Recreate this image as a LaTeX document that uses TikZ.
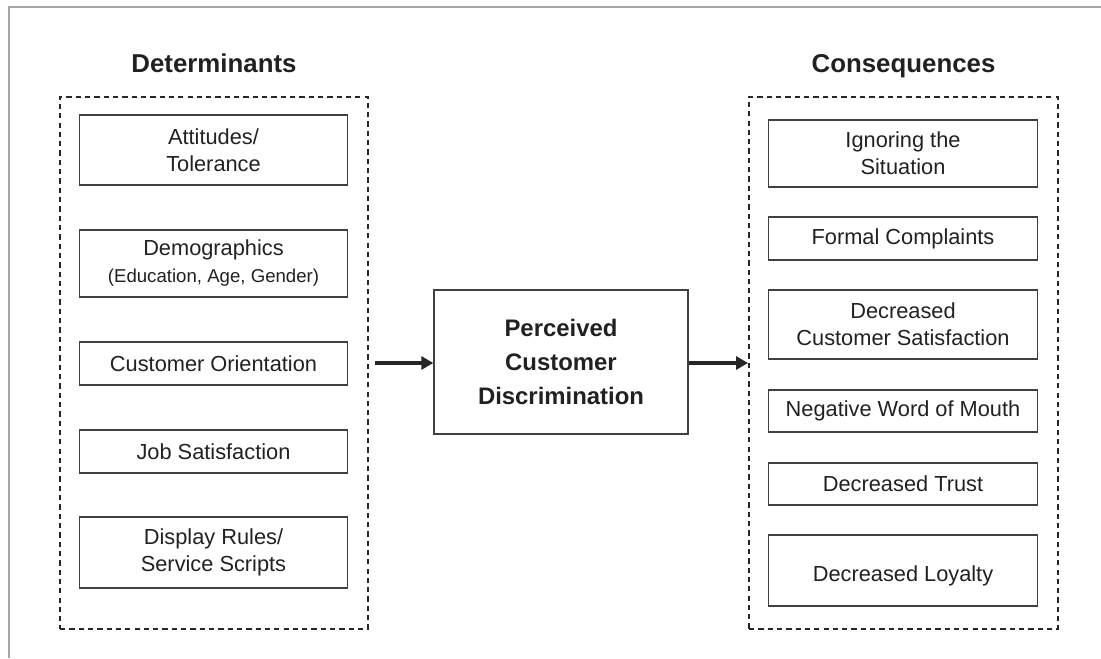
\documentclass[tikz,border=0pt]{standalone}
\usepackage{fontspec}
\setmainfont{Liberation Sans}
\usetikzlibrary{arrows.meta}

\begin{document}
\begin{tikzpicture}[
        factor/.style={draw=black!75,line width=0.75pt,minimum width=5.37cm,inner sep=0pt,align=center,
            text=black!87,font=\fontsize{12.4}{15.4}\selectfont},
        group/.style={draw=black!85,line width=1.1pt,dash pattern=on 3pt off 2.3pt,inner sep=0pt},
        heading/.style={anchor=base,text=black!87,font=\fontsize{14.7}{17}\selectfont\bfseries},
        flow/.style={draw=black!85,line width=2.3pt,-{Triangle[length=0.24cm,width=0.26cm]}}
    ]
        \useasboundingbox (0,0) rectangle (22.02,-13.16);
        % frame along the top and left edge
        \draw[black!35,line width=1.1pt] (22.02,-0.14) -- (0.18,-0.14) -- (0.18,-13.16);

        % left column: determinants
        \node[heading] (dethead) at (4.28,-1.44) {Determinants};
        \node[group,minimum width=6.16cm,minimum height=10.64cm] (detbox) at (4.28,-7.26) {};
        \node[factor,minimum height=1.40cm] (att) at (4.27,-3.00) {Attitudes/\\Tolerance};
        \node[factor,minimum height=1.34cm] (demo) at (4.27,-5.27)
            {Demographics\\{\fontsize{10.6}{13}\selectfont (Education, Age, Gender)}};
        \node[factor,minimum height=0.86cm] (orient) at (4.27,-7.27) {Customer Orientation};
        \node[factor,minimum height=0.86cm] (jobsat) at (4.27,-9.03) {Job Satisfaction};
        \node[factor,minimum height=1.42cm] (rules) at (4.27,-11.05) {Display Rules/\\Service Scripts};

        % middle: the construct itself
        \node[factor,minimum width=5.08cm,minimum height=2.88cm,
            font=\fontsize{13.6}{19.6}\selectfont\bfseries] (pcd) at (11.22,-7.24)
            {Perceived\\Customer\\Discrimination};

        % right column: consequences
        \node[heading] (conhead) at (18.07,-1.44) {Consequences};
        \node[group,minimum width=6.18cm,minimum height=10.64cm] (conbox) at (18.07,-7.26) {};
        \node[factor,minimum height=1.34cm] (ignore) at (18.06,-3.07) {Ignoring the\\Situation};
        \node[factor,minimum height=0.86cm] (complain) at (18.06,-4.77) {Formal Complaints};
        \node[factor,minimum height=1.38cm] (satis) at (18.06,-6.49) {Decreased\\Customer Satisfaction};
        \node[factor,minimum height=0.84cm] (wom) at (18.06,-8.22) {Negative Word of Mouth};
        \node[factor,minimum height=0.84cm] (trust) at (18.06,-9.68) {Decreased Trust};
        \node[factor,minimum height=1.42cm] (loyal) at (18.06,-11.41) {\mbox{}\\Decreased Loyalty};

        % arrows
        \coordinate (src) at (7.50,-7.26);
        \draw[flow] (src) -- (src -| pcd.west);
        \draw[flow] (pcd.east |- src) -- (src -| conbox.west);
    \end{tikzpicture}
\end{document}
